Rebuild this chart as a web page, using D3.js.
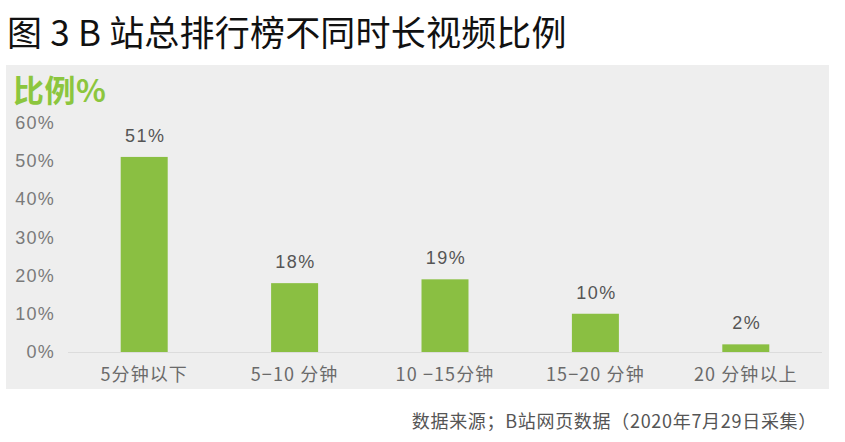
<!DOCTYPE html>
<html><head><meta charset="utf-8">
<script src="https://cdn.jsdelivr.net/npm/d3@7"></script>
<style>
html,body{margin:0;padding:0;background:#fff;}
svg{display:block;font-family:"Noto Sans CJK SC","Noto Sans",sans-serif;}
</style></head>
<body>
<svg id="chart" width="845" height="442"></svg>
<script>
const categories = ["5分钟以下", "5−10 分钟", "10 −15分钟", "15−20 分钟", "20 分钟以上"];
const values = [51, 18, 19, 10, 2];
const yTicks = [0, 10, 20, 30, 40, 50, 60];
const titleText = "图 3 B 站总排行榜不同时长视频比例";
const yTitle = "比例%";
const sourceText = "数据来源；B站网页数据（2020年7月29日采集）";

const svg = d3.select("#chart");

svg.append("text").attr("x", 7).attr("y", 46)
  .attr("font-size", 35).attr("letter-spacing", 0.2).attr("fill", "#111").text(titleText);

svg.append("rect").attr("x", 6).attr("y", 65).attr("width", 823).attr("height", 324)
  .attr("fill", "#eeeeee");

svg.append("text").attr("x", 13).attr("y", 102)
  .attr("font-size", 31).attr("font-weight", "bold").attr("letter-spacing", 0.5)
  .attr("fill", "#8cc63e").text(yTitle);

const x = d3.scaleBand().domain(categories).range([69, 821])
  .paddingInner(0.6875).paddingOuter(0.34375);
const y = d3.scaleLinear().domain([0, 60]).range([352, 122.5]);

const yAxis = d3.axisLeft(y).tickValues(yTicks).tickFormat(d => d + "%").tickSize(0).tickPadding(0);
const gy = svg.append("g").attr("transform", "translate(55,0)").call(yAxis);
gy.select(".domain").remove();
gy.selectAll("text").attr("font-size", 18).attr("letter-spacing", 1.2).attr("fill", "#7a7a7a")
  .attr("font-family", "'Liberation Sans',Arial,sans-serif");

svg.append("line").attr("x1", 68).attr("x2", 822).attr("y1", 352.5).attr("y2", 352.5)
  .attr("stroke", "#dcdcdc").attr("stroke-width", 1);

svg.selectAll("rect.bar").data(values).join("rect").attr("class", "bar")
  .attr("x", (d, i) => x(categories[i]))
  .attr("width", x.bandwidth())
  .attr("y", d => y(d))
  .attr("height", d => y(0) - y(d))
  .attr("fill", "#8abf42");

svg.selectAll("text.val").data(values).join("text").attr("class", "val")
  .attr("x", (d, i) => x(categories[i]) + x.bandwidth() / 2 + 1)
  .attr("y", d => y(d) - 15)
  .attr("text-anchor", "middle").attr("font-size", 18).attr("letter-spacing", 1.5)
  .attr("font-family", "'Liberation Sans',Arial,sans-serif")
  .attr("fill", "#555")
  .text(d => d + "%");

const xAxis = d3.axisBottom(x).tickSize(0).tickPadding(0);
const gx = svg.append("g").attr("transform", "translate(0,368)").call(xAxis);
gx.select(".domain").remove();
gx.selectAll("text").attr("font-size", 18).attr("letter-spacing", 1.1).attr("fill", "#6a6a6a")
  .attr("font-family", "'Noto Sans CJK SC',sans-serif").attr("dy", "0.71em");

svg.append("text").attr("x", 817).attr("y", 428).attr("text-anchor", "end")
  .attr("font-size", 18).attr("letter-spacing", 0.7).attr("fill", "#555").text(sourceText);
</script>
</body></html>
